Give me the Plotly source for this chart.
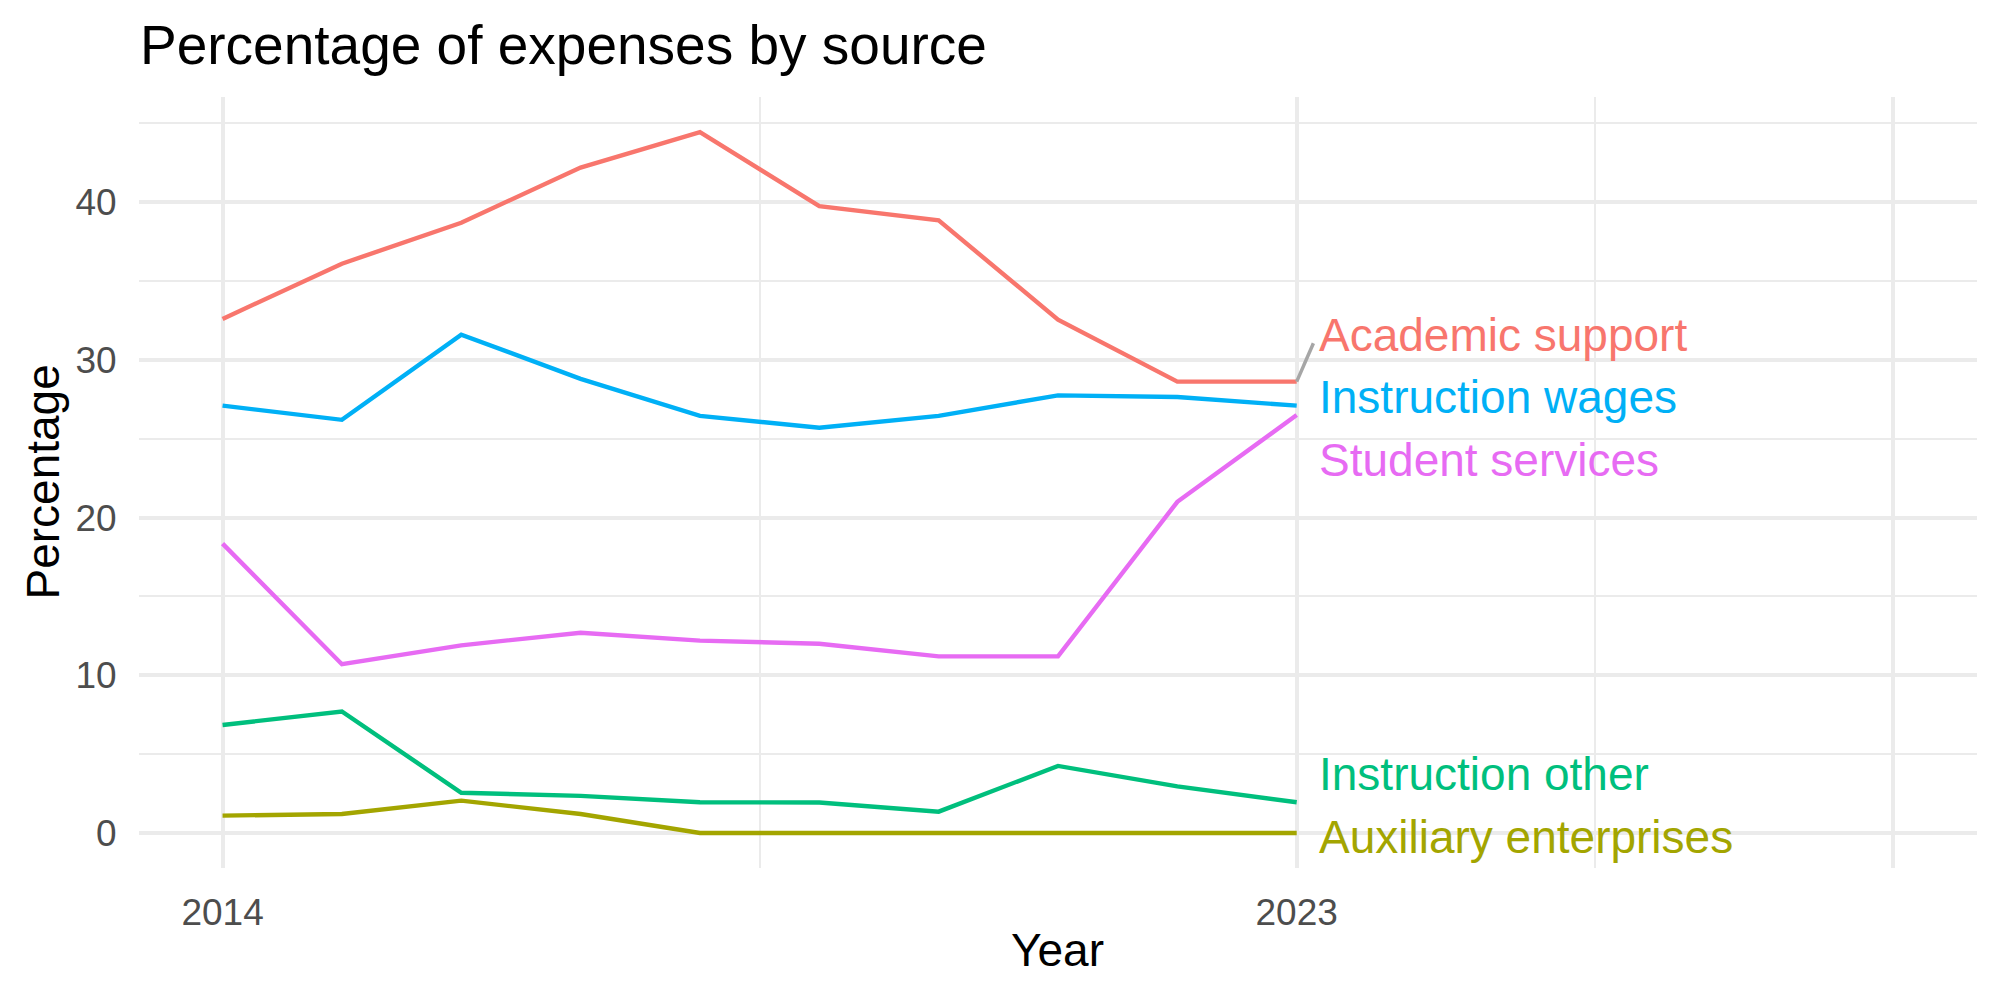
import plotly.graph_objects as go

years = [2014, 2015, 2016, 2017, 2018, 2019, 2020, 2021, 2022, 2023]
academic_support = [32.6, 36.1, 38.7, 42.2, 44.45, 39.75, 38.85, 32.55, 28.62, 28.62]
instruction_wages = [27.1, 26.2, 31.6, 28.8, 26.45, 25.7, 26.45, 27.75, 27.65, 27.1]
student_services = [18.35, 10.7, 11.9, 12.7, 12.2, 12.0, 11.2, 11.2, 21.0, 26.5]
instruction_other = [6.85, 7.7, 2.55, 2.35, 1.95, 1.93, 1.35, 4.25, 2.95, 1.95]
auxiliary_enterprises = [1.1, 1.2, 2.05, 1.2, 0, 0, 0, 0, 0, 0]

series_names = ["Academic support", "Auxiliary enterprises", "Instruction other",
                "Instruction wages", "Student services"]
series_values = [academic_support, auxiliary_enterprises, instruction_other,
                 instruction_wages, student_services]
colors = ["#F8766D", "#A3A500", "#00BF7D", "#00B0F6", "#E76BF3"]

# repelled label positions (end-of-line labels)
label_x = 2023.18
label_y = [31.6, -0.25, 3.75, 27.65, 23.65]
# connector segment for the label that was pushed away from its point
segment_end = (2023.14, 31.06)

x_ticks = [2014, 2023, 2028]
x_ticktext = ["2014", "2023", ""]
x_minor = [2018.5, 2025.5]
y_ticks = [0, 10, 20, 30, 40]
y_minor = [5, 15, 25, 35, 45]

FONT = "Liberation Sans, Arial, Helvetica, sans-serif"

fig = go.Figure()

for name, vals, col in zip(series_names, series_values, colors):
    fig.add_trace(go.Scatter(x=years, y=vals, mode="lines", name=name,
                             line=dict(color=col, width=4.4), showlegend=False))

# segment for Academic support label
fig.add_trace(go.Scatter(x=[years[-1], segment_end[0]],
                         y=[academic_support[-1], segment_end[1]],
                         mode="lines", line=dict(color="#A6A6A6", width=3.5),
                         showlegend=False, hoverinfo="skip"))

for name, ly, col in zip(series_names, label_y, colors):
    fig.add_annotation(x=label_x, y=ly, xref="x", yref="y", text=name,
                       showarrow=False, xanchor="left", yanchor="middle",
                       font=dict(family=FONT, size=46, color=col), borderpad=0)

all_vals = [v for s in series_values for v in s]
ymin, ymax = min(all_vals), max(all_vals)
pad = (ymax - ymin) * 0.05
xmin, xmax = 2014, 2028
xpad = (xmax - xmin) * 0.05

L, R, T, B = 139, 23, 97, 132
W, H = 2000, 1000
pw = W - L - R
ph = H - T - B

# axis titles
fig.add_annotation(x=(1057 - L) / pw, y=1 - (950 - T) / ph, xref="paper", yref="paper",
                   text="Year", showarrow=False, xanchor="center", yanchor="middle",
                   font=dict(family=FONT, size=46, color="black"))
fig.add_annotation(x=(42 - L) / pw, y=0.5, xref="paper", yref="paper",
                   text="Percentage", showarrow=False, xanchor="center", yanchor="middle",
                   textangle=-90, font=dict(family=FONT, size=46, color="black"))

fig.update_layout(
    width=W, height=H,
    margin=dict(l=L, r=R, t=T, b=B, pad=0),
    paper_bgcolor="white", plot_bgcolor="white",
    title=dict(text="Percentage of expenses by source", x=140 / W, xref="container",
               xanchor="left", y=1 - 45 / H, yref="container", yanchor="middle",
               font=dict(family=FONT, size=55, color="black")),
    xaxis=dict(range=[xmin - xpad, xmax + xpad], tickvals=x_ticks, ticktext=x_ticktext,
               showgrid=True, gridcolor="#EBEBEB", gridwidth=4, zeroline=False,
               showline=False, ticks="outside", ticklen=12, tickcolor="rgba(0,0,0,0)",
               tickfont=dict(family=FONT, size=37, color="#4D4D4D"),
               minor=dict(tickvals=x_minor, showgrid=True, gridcolor="#EBEBEB",
                          gridwidth=2, ticks="")),
    yaxis=dict(range=[ymin - pad, ymax + pad], tickvals=y_ticks,
               showgrid=True, gridcolor="#EBEBEB", gridwidth=4, zeroline=False,
               showline=False, ticks="outside", ticklen=14, tickcolor="rgba(0,0,0,0)",
               tickfont=dict(family=FONT, size=37, color="#4D4D4D"),
               minor=dict(tickvals=y_minor, showgrid=True, gridcolor="#EBEBEB",
                          gridwidth=2, ticks="")),
)

fig.write_html("out.html")
